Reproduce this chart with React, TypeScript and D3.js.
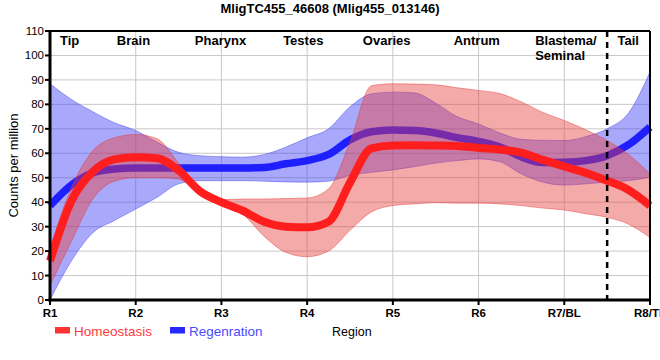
import React from 'react';
import * as d3 from 'd3';

const title = 'MligTC455_46608 (Mlig455_013146)';
const regions = ['R1', 'R2', 'R3', 'R4', 'R5', 'R6', 'R7/BL', 'R8/TL'];
const yTicks = [0, 10, 20, 30, 40, 50, 60, 70, 80, 90, 100, 110];
const regionNames = ['Tip', 'Brain', 'Pharynx', 'Testes', 'Ovaries', 'Antrum', 'Blastema/|Seminal', 'Tail'];
const regionNamePos = [0.117, 0.78, 1.69, 2.72, 3.65, 4.71, 5.66, 6.62];
const dividerPos = 6.5;

const samplePos = [0, 0.25, 0.5, 0.75, 1, 1.25, 1.5, 1.75, 2, 2.25, 2.5, 2.75, 3, 3.25, 3.5, 3.75, 4, 4.25, 4.5, 4.75, 5, 5.25, 5.5, 5.75, 6, 6.25, 6.5, 6.75, 7];

const homeoMean = [16, 40.5, 52.5, 57.5, 58.4, 58, 53, 44.5, 40, 36.5, 32, 30, 29.7, 32, 48, 62, 63.2, 63.3, 63.2, 63, 62.2, 61.5, 60.3, 57.3, 54.6, 52, 48.8, 45, 38.6];
const homeoHigh = [21, 46, 61, 66.3, 67.7, 65.9, 56, 45.5, 41, 41.3, 41.3, 41.5, 41.7, 45.5, 64.5, 87.6, 88.4, 88.3, 88, 86.8, 85.7, 84.4, 81, 76.7, 73.4, 69.6, 65.2, 59.5, 51.5];
const homeoLow = [6, 24, 41.3, 48.6, 50, 50, 49.5, 43.5, 38.5, 35, 26, 19.5, 17.7, 20, 28.5, 36, 38.6, 39.3, 39.8, 39.6, 39.6, 39.3, 38.6, 37.6, 36.8, 35.3, 33.8, 31, 25.6];

const regenMean = [38.6, 47, 52, 53.6, 54, 54, 54, 54, 54, 54, 54.2, 55.7, 57, 59.5, 65.5, 68.8, 69.5, 69.3, 68.3, 66.4, 64.9, 62.6, 58.5, 56.2, 56.3, 57, 59, 63.5, 70.7];
const regenHigh = [88.4, 82, 77, 72.5, 69.3, 64.5, 60.4, 59, 58.6, 58.4, 59.5, 62.5, 66.3, 70, 79, 84.3, 85, 84.7, 80.5, 75, 72, 68.3, 65.7, 65.3, 65.2, 66.8, 70, 76.5, 93.2];
const regenLow = [0, 16, 27.5, 32.5, 37.2, 42, 47.5, 48.8, 48.8, 48.8, 48.6, 48.3, 48.2, 48.6, 51, 52.2, 53.2, 54.5, 56, 57, 57.7, 56.5, 51.5, 48.2, 47, 47.5, 48.2, 48.8, 50.2];

const seriesNames = ['Homeostasis', 'Regenration'];

const W = 660;
const H = 360;
const M = { left: 50, right: 10, top: 31, bottom: 60 };
const FONT = '"Liberation Sans", Arial, sans-serif';

export default function App() {
  const x = d3.scaleLinear().domain([0, regions.length - 1]).range([M.left, W - M.right]);
  const y = d3.scaleLinear().domain([0, 110]).range([H - M.bottom, M.top]);

  const band = (lo: number[], hi: number[]) =>
    d3.area<number>()
      .x((t) => x(t))
      .y0((_, i) => y(lo[i]))
      .y1((_, i) => y(hi[i]))
      .curve(d3.curveMonotoneX)(samplePos) || '';
  const edge = (v: number[]) =>
    d3.line<number>()
      .x((t) => x(t))
      .y((_, i) => y(v[i]))
      .curve(d3.curveMonotoneX)(samplePos) || '';

  const x0 = x(0);
  const x1 = x(regions.length - 1);
  const yb = y(0);
  const yt = y(110);

  return (
    <div style={{ position: 'absolute', left: 0, top: 0 }}>
      <svg width={W} height={H} style={{ display: 'block', fontFamily: FONT }}>
        <rect x={0} y={0} width={W} height={H} fill="#fff" />
        <text x={W / 2} y={13} textAnchor="middle" fontWeight="bold" fontSize={13}>{title}</text>

        {/* grid */}
        {yTicks.slice(1, -1).map((v) => (
          <line key={'gy' + v} x1={x0} x2={x1} y1={y(v)} y2={y(v)} stroke="#c8c8c8" strokeWidth={1} />
        ))}
        {regions.slice(1, -1).map((r, i) => (
          <line key={'gx' + r} x1={x(i + 1)} x2={x(i + 1)} y1={yt} y2={yb} stroke="#c8c8c8" strokeWidth={1} />
        ))}

        {/* regeneration band + line */}
        <path d={band(regenLow, regenHigh)} fill="rgba(60,60,245,0.44)" stroke="none" />
        <path d={edge(regenHigh)} fill="none" stroke="rgba(60,60,240,0.45)" strokeWidth={1} />
        <path d={edge(regenLow)} fill="none" stroke="rgba(60,60,240,0.45)" strokeWidth={1} />
        <path d={edge(regenMean)} fill="none" stroke="#1e1eff" strokeWidth={7.5} />

        {/* homeostasis band + line */}
        <path d={band(homeoLow, homeoHigh)} fill="rgba(232,62,62,0.44)" stroke="none" />
        <path d={edge(homeoHigh)} fill="none" stroke="rgba(230,50,50,0.45)" strokeWidth={1} />
        <path d={edge(homeoLow)} fill="none" stroke="rgba(230,50,50,0.45)" strokeWidth={1} />
        <path d={edge(homeoMean)} fill="none" stroke="#ff1e1e" strokeWidth={8} />

        {/* divider */}
        <line x1={x(dividerPos)} x2={x(dividerPos)} y1={yt} y2={yb + 5} stroke="#000" strokeWidth={2.5} strokeDasharray="6,5" />

        {/* frame */}
        <line x1={x0} x2={x1} y1={yt} y2={yt} stroke="#000" strokeWidth={2} />
        <line x1={x1} x2={x1} y1={yt} y2={yb} stroke="#000" strokeWidth={2} />
        <line x1={x0} x2={x0} y1={yt - 1} y2={yb + 1.5} stroke="#000" strokeWidth={3} />
        <line x1={x0 - 1.5} x2={x1 + 1} y1={yb} y2={yb} stroke="#000" strokeWidth={3} />

        {/* y ticks */}
        {yTicks.map((v) => (
          <g key={'yt' + v}>
            <line x1={x0 - 5} x2={x0} y1={y(v)} y2={y(v)} stroke="#000" strokeWidth={2} />
            <text x={x0 - 6} y={y(v) + 4} textAnchor="end" fontSize={11.5}>{v}</text>
          </g>
        ))}
        {/* x ticks */}
        {regions.map((r, i) => (
          <g key={'xt' + r}>
            <line x1={x(i)} x2={x(i)} y1={yb} y2={yb + 5} stroke="#000" strokeWidth={2} />
            <text x={x(i)} y={yb + 17} textAnchor="middle" fontSize={11.5} fontWeight="bold">{r}</text>
          </g>
        ))}

        {/* region names */}
        {regionNames.map((n, i) => (
          <text key={'rn' + i} x={x(regionNamePos[i])} y={45} fontSize={13} fontWeight="bold">
            {n.split('|').map((part, j) => (
              <tspan key={j} x={x(regionNamePos[i])} dy={j === 0 ? 0 : 14.5}>{part}</tspan>
            ))}
          </text>
        ))}

        {/* axis titles */}
        <text transform={`translate(18,${(yt + yb) / 2}) rotate(-90)`} textAnchor="middle" fontSize={13}>Counts per million</text>
        <text x={332} y={336} fontSize={12.5}>Region</text>

        {/* legend */}
        <rect x={55} y={327} width={15} height={6.5} fill="#ff3232" />
        <text x={74} y={335.5} fontSize={13.5} fill="#ff3c3c">{seriesNames[0]}</text>
        <rect x={170} y={327} width={15} height={6.5} fill="#2828ff" />
        <text x={189} y={335.5} fontSize={13.5} fill="#4a4aff">{seriesNames[1]}</text>
      </svg>
    </div>
  );
}
